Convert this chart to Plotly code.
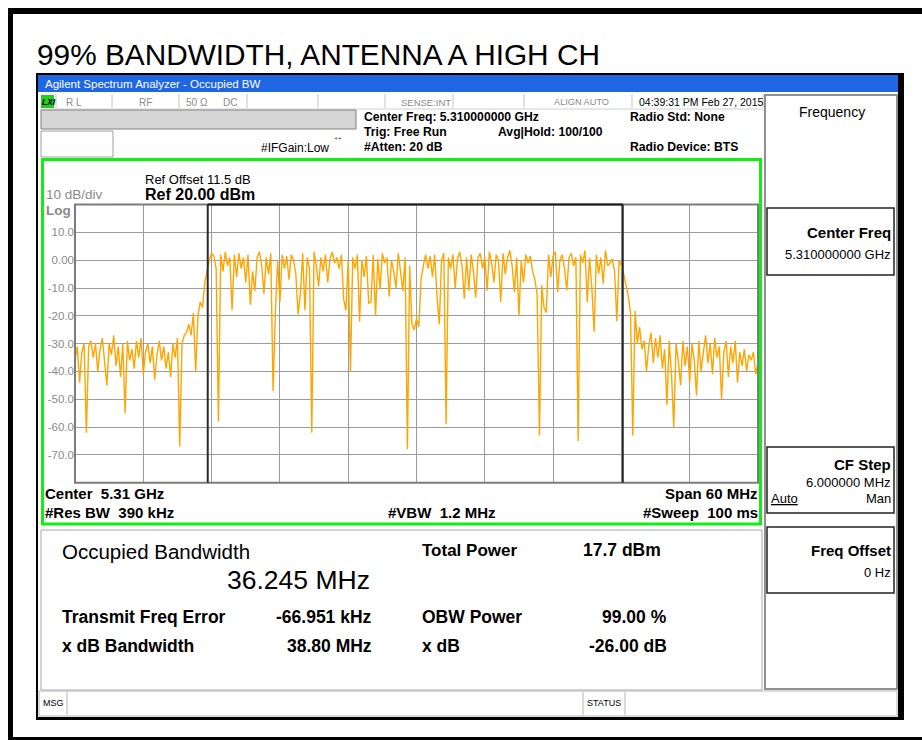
"""Occupied bandwidth screenshot (Agilent analyzer) rebuilt with plotly."""

import numpy as np
import plotly.graph_objects as go

# ---- data (dBm), 301 sweep points across the 60 MHz span ----
CENTER_GHZ = 5.31
SPAN_MHZ = 60

floor_left = [-36, -31, -44, -33, -30, -62, -31, -29, -35, -30,
              -40, -32, -28, -36, -45, -30, -34, -27, -38, -31,
              -42, -30, -55, -29, -36, -32, -39, -29, -35, -28,
              -41, -33, -30, -37, -31, -43, -34, -29, -36, -31, -39]

ramp_up = [-33, -42, -30, -35, -28, -67, -30, -27, -26, -23,
           -27, -19, -40, -20, -15, -17, -8, -4, 0, 2.5]

in_band = [1.5, -3, -58, 2, -4, 3, -2, 1, -18, 2,
           -6, 2.5, -3, 1, -8, 2, -16, -4, -11, 1,
           3, -2, -12, 1, -5, 2.5, -47, -19, 0, -15,
           2, -3, 1.5, -7, 2, 0, -5, -19.5, -12, 2.5,
           -18, 1, -3, -62, 3, -2, -9.5, 1, -4, 2,
           -8, 0.5, 3, -1, 1, -3, 2, -14, -18, 0,
           -40, 1, -3, 2, -22, 0, -6, 1.5, -15.5, -15,
           2, -20, 0.5, -10.5, 2.5, -1, 1, -13, 0, -4,
           -10, 2.5, -5, -11, 1, -68, -2, -23, -25, -21,
           -24, -7, -2, 2, -3, 1.5, -6, 2, -13, -23,
           0, 2.5, -59, 1, -3, 2, -10, 0.5, 3, -2,
           -13.8, 1, -11, 2, -4, -13.5, 1, 2.5, -3, 1,
           -11, 3, -1, -8, 2, 0, -15, 2.5, -5, 1,
           3.5, -2, -11.4, 1, -20, 0, -8, 2, -1, 1.5,
           -4, -7, -12.5, -63, -9, -17, -18.8, 2, -6, 1.5,
           3, -11.4, 0, 2, -3, -10.8, 1, 2.5, -2, 1,
           -65, 2, -1, 3.5, -15, 1, -9.6, -25.7, 2, -4.8,
           1, -8.4, 3.5, -2, -1, 0.5, -4, -21.9, 0]

ramp_down = [-2, -5, -8.4, -12.6, -19, -63, -18.3, -30, -24, -32,
             -29, -40, -31, -26, -37, -28, -35, -27, -39, -32,
             -52, -29, -41, -60, -30, -36, -45, -29, -38, -31,
             -44, -30, -36, -48.6, -29, -40, -33, -27, -37, -30,
             -41, -28, -35, -31, -50, -33, -29, -42, -31, -37,
             -29, -44, -33, -38, -32, -40, -34, -36, -33, -41, -37]

trace_dbm = floor_left + ramp_up + in_band + ramp_down
freq_mhz = np.linspace(-SPAN_MHZ / 2, SPAN_MHZ / 2, len(trace_dbm))

obw_markers = [-18.34, 18.12]  # MHz offset of the 99% OBW edges
y_ticks = [10, 0, -10, -20, -30, -40, -50, -60, -70]
y_ticktext = ["10.0", "0.00", "-10.0", "-20.0", "-30.0", "-40.0", "-50.0", "-60.0", "-70.0"]
x_grid = [-24, -18, -12, -6, 0, 6, 12, 18, 24]

# ---- helpers: positions in screenshot pixels ----
W, H = 922, 740
SANS = "Liberation Sans, Arial, sans-serif"
GRAY_TXT = "#8a8a8a"


def px(x):
    return x / W


def py(y):
    return 1 - y / H


shapes = []
annotations = []


def rect(x0, y0, x1, y1, fill="rgba(0,0,0,0)", line=None, width=1, layer="below"):
    shapes.append(dict(
        type="rect", xref="paper", yref="paper",
        x0=px(x0), x1=px(x1), y0=py(y1), y1=py(y0),
        fillcolor=fill, layer=layer,
        line=dict(color=line if line else "rgba(0,0,0,0)", width=width if line else 0),
    ))


def seg(x0, y0, x1, y1, color, width=1, layer="below"):
    shapes.append(dict(
        type="line", xref="paper", yref="paper",
        x0=px(x0), x1=px(x1), y0=py(y0), y1=py(y1),
        line=dict(color=color, width=width), layer=layer,
    ))


def label(x, y, s, size, color="black", anchor="left", bold=False, family=SANS):
    annotations.append(dict(
        text=f"<b>{s}</b>" if bold else s,
        x=px(x), y=py(y), xref="paper", yref="paper",
        xanchor=anchor, yanchor="middle", showarrow=False,
        font=dict(size=size, color=color, family=family),
    ))


# ---- page frame and title ----
rect(8, 8, 922, 14, fill="black")
rect(8, 8, 13, 740, fill="black")
rect(8, 737, 922, 740, fill="black")
label(35, 54, "99% BANDWIDTH, ANTENNA A HIGH CH", 29.8)

# ---- analyzer window ----
rect(36, 73, 904, 720, fill="black")
rect(38, 75, 898, 717, fill="white")
rect(38, 75, 898, 92, fill="#1f66e3")
label(43, 84, "Agilent Spectrum Analyzer - Occupied BW", 11.5, color="white")

# status row
for sx in [56, 112, 179, 247, 318, 385, 453, 524, 632, 763]:
    seg(sx, 94, sx, 108, "#c4c4c4")
seg(40, 109, 763, 109, "#d0d0d0")
rect(41, 95, 54, 108, fill="#22cc22")
label(40, 102, "<i>LXI</i>", 8.5, bold=True)
label(64, 102, "R L", 10, color=GRAY_TXT)
label(137, 102, "RF", 10, color=GRAY_TXT)
label(184, 102, "50 Ω", 10, color=GRAY_TXT)
label(221, 102, "DC", 10, color=GRAY_TXT)
label(399, 102, "SENSE:INT", 9.5, color=GRAY_TXT)
label(552, 102, "ALIGN AUTO", 9.2, color=GRAY_TXT)
label(637, 102, "04:39:31 PM Feb 27, 2015", 10.5)

rect(41, 110, 356, 129, fill="#d6d6d6", line="#808080")
rect(41, 131, 113, 157, fill="white", line="#a0a0a0")
label(331, 136, "↔", 10)
label(259, 148, "#IFGain:Low", 12)
label(362, 117, "Center Freq: 5.310000000 GHz", 12.2, bold=True)
label(362, 132, "Trig: Free Run", 12.2, bold=True)
label(496, 132, "Avg|Hold: 100/100", 12.2, bold=True)
label(362, 147, "#Atten: 20 dB", 12.2, bold=True)
label(628, 117, "Radio Std: None", 12.2, bold=True)
label(628, 147, "Radio Device: BTS", 12.2, bold=True)

# soft key panel
rect(765, 95, 897, 689, fill="white", line="#909090", width=2)
label(832, 112, "Frequency", 14, anchor="center")
for y0, y1 in [(208, 275), (447, 513), (527, 593)]:
    rect(767, y0, 894, y1, line="#222222", width=1.5)
label(893, 232, "Center Freq", 15, anchor="right", bold=True)
label(893, 255, "5.310000000 GHz", 13, anchor="right")
label(893, 464, "CF Step", 15, anchor="right", bold=True)
label(893, 482, "6.000000 MHz", 13, anchor="right")
label(769, 498, "<u>Auto</u>", 13)
label(893, 498, "Man", 13, anchor="right")
label(893, 550, "Freq Offset", 15, anchor="right", bold=True)
label(893, 572, "0 Hz", 13, anchor="right")

# green measurement frame
rect(42.5, 159.5, 760.5, 524, line="#11ee11", width=3)
label(44, 195, "10 dB/div", 13.5, color=GRAY_TXT)
label(44, 210, "Log", 13.5, color=GRAY_TXT, bold=True)
label(143, 180, "Ref Offset 11.5 dB", 13)
label(143, 195, "Ref 20.00 dBm", 16, bold=True)
label(43, 493, "Center\u00a0\u00a05.31 GHz", 15, bold=True)
label(43, 512, "#Res BW\u00a0\u00a0390 kHz", 15, bold=True)
label(386, 512, "#VBW\u00a0\u00a01.2 MHz", 15, bold=True)
label(760, 493, "Span 60 MHz", 15, anchor="right", bold=True)
label(760, 512, "#Sweep\u00a0\u00a0100 ms", 15, anchor="right", bold=True)

# result panel
rect(41, 530, 762, 690, fill="white", line="#a8a8a8")
label(60, 551, "Occupied Bandwidth", 20.5)
label(225, 580, "36.245 MHz", 26.5)
label(420, 550, "Total Power", 17, bold=True)
label(581, 550, "17.7 dBm", 17.5, bold=True)
label(60, 617, "Transmit Freq Error", 17.5, bold=True)
label(374, 617, "-66.951 kHz", 17.5, anchor="right", bold=True)
label(420, 617, "OBW Power", 17.5, bold=True)
label(669, 617, "99.00 %", 17.5, anchor="right", bold=True)
label(60, 646, "x dB Bandwidth", 17.5, bold=True)
label(374, 646, "38.80 MHz", 17.5, anchor="right", bold=True)
label(420, 646, "x dB", 17.5, bold=True)
label(669, 646, "-26.00 dB", 17.5, anchor="right", bold=True)

# message bar
rect(39, 691, 897, 716, fill="white", line="#b4b4b4")
for sx in [67, 583, 625]:
    seg(sx, 692, sx, 715, "#b4b4b4")
label(41, 703, "MSG", 9)
label(585, 703, "STATUS", 9)

# ---- plot area frame and OBW markers ----
PX0, PX1, PY0, PY1 = 75, 758, 204.6, 482.7
rect(PX0, PY0, PX1, PY1, line="#7c7c7c", width=2, layer="above")
for m in obw_markers:
    shapes.append(dict(type="line", xref="x", yref="paper", x0=m, x1=m,
                       y0=py(PY1), y1=py(PY0), layer="above",
                       line=dict(color="#2a2a2a", width=2)))
shapes.append(dict(type="line", xref="x", yref="paper",
                   x0=obw_markers[0], x1=obw_markers[1], y0=py(PY0), y1=py(PY0),
                   layer="above", line=dict(color="#1a1a1a", width=2)))

fig = go.Figure(go.Scatter(
    x=freq_mhz, y=trace_dbm, mode="lines",
    line=dict(color="#ffa500", width=1.4),
    hoverinfo="skip",
))

fig.update_layout(
    width=W, height=H, autosize=False,
    margin=dict(l=0, r=0, t=0, b=0),
    paper_bgcolor="white", plot_bgcolor="white",
    showlegend=False,
    shapes=shapes, annotations=annotations,
    xaxis=dict(
        domain=[px(PX0), px(PX1)], range=[-SPAN_MHZ / 2, SPAN_MHZ / 2],
        tickvals=x_grid, showticklabels=False, ticks="",
        showgrid=True, gridcolor="#9c9c9c", gridwidth=1,
        zeroline=False, showline=False, fixedrange=True,
    ),
    yaxis=dict(
        domain=[py(PY1), py(PY0)], range=[-80, 20],
        tickvals=y_ticks, ticktext=y_ticktext, ticks="",
        tickfont=dict(size=11.5, color=GRAY_TXT, family=SANS),
        showgrid=True, gridcolor="#9c9c9c", gridwidth=1,
        zeroline=False, showline=False, fixedrange=True,
    ),
)

# the page body has a default 8px margin; drop it so pixels line up
fig.write_html("out.html", config={"displayModeBar": False},
               post_script="document.body.style.margin='0';")
